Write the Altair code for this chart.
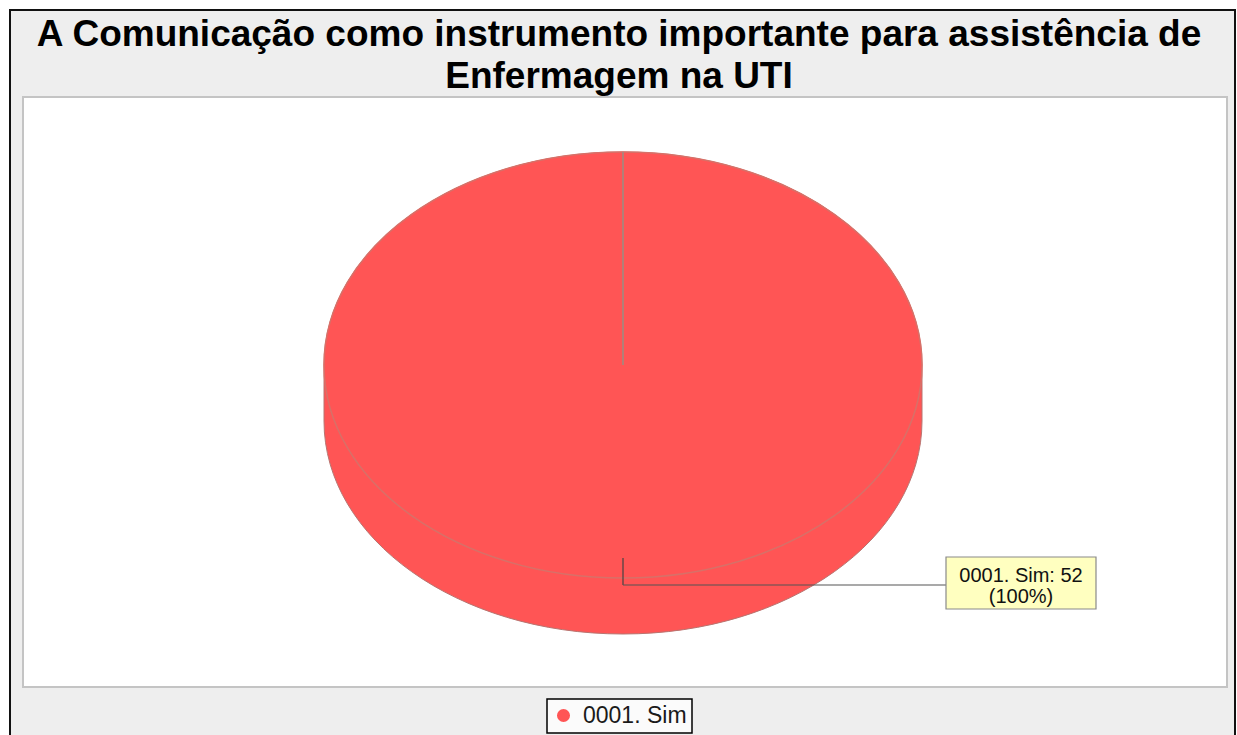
import altair as alt
import pandas as pd

# ---- data ----
categories = ["0001. Sim"]
values = [52]
title_lines = ["A Comunicação como instrumento importante para assistência de",
               "Enfermagem na UTI"]
slice_colors = ["#FF5555"]

df = pd.DataFrame({"category": categories, "value": values})
blank = alt.Data(values=[{"k": 1}])
titles = pd.DataFrame({"line": title_lines, "row": list(range(len(title_lines)))})

W, H = 1237, 735
CX, CY = 623, 365          # centre of the pie's top face
RX = 299                   # horizontal radius in px
RY_REL = 0.7124            # vertical/horizontal ratio of the ellipse
DEPTH_REL = 0.1873         # thickness of the 3D side, relative to RX
SIZE = (2 * RX) ** 2

top_face = (f"M -1 0 A 1 {RY_REL} 0 1 1 1 0 A 1 {RY_REL} 0 1 1 -1 0 Z")
silhouette = (f"M -1 0 A 1 {RY_REL} 0 0 1 1 0 L 1 {DEPTH_REL} "
              f"A 1 {RY_REL} 0 0 1 -1 {DEPTH_REL} Z")

color_scale = alt.Scale(domain=categories, range=slice_colors)
legend = alt.Legend(title=None, orient="none", legendX=547, legendY=699,
                    strokeColor="#000000", fillColor="#fbfbfb", padding=5,
                    symbolType="circle", symbolSize=170,
                    symbolStrokeWidth=0, symbolOpacity=1,
                    labelFont="Liberation Sans", labelFontSize=23,
                    labelColor="#1a1a1a", labelOffset=8)

outer = alt.Chart(blank).mark_rect(fill="#eeeeee", stroke="#111111", strokeWidth=2).encode(
    x=alt.value(10), x2=alt.value(1235), y=alt.value(10), y2=alt.value(780))

panel = alt.Chart(blank).mark_rect(fill="#ffffff", stroke="#c4c4c4", strokeWidth=2).encode(
    x=alt.value(23), x2=alt.value(1227), y=alt.value(97), y2=alt.value(687))

title = alt.Chart(titles).mark_text(
    font="Liberation Sans", fontWeight="bold", fontSize=37, color="#000000",
    align="center", baseline="alphabetic").encode(
    x=alt.value(619),
    y=alt.Y("row:Q", scale=alt.Scale(domain=[0, 1], range=[46, 88]), axis=None),
    text="line:N")

side = alt.Chart(df).mark_point(
    shape=silhouette, filled=True, size=SIZE, opacity=1,
    stroke="#b87470", strokeWidth=1).encode(
    x=alt.value(CX), y=alt.value(CY),
    color=alt.Color("category:N", scale=color_scale, legend=legend))

top = alt.Chart(df).mark_point(
    shape=top_face, filled=True, size=SIZE, opacity=1,
    stroke="#d87068", strokeWidth=1.5).encode(
    x=alt.value(CX), y=alt.value(CY),
    color=alt.Color("category:N", scale=color_scale, legend=legend))

boundary = alt.Chart(blank).mark_rule(color="#a08a80", strokeWidth=2, opacity=0.8).encode(
    x=alt.value(CX), y=alt.value(152), y2=alt.value(CY))

leader_v = alt.Chart(blank).mark_rule(color="#444444", strokeWidth=1.2).encode(
    x=alt.value(CX), y=alt.value(558), y2=alt.value(585))
leader_h = alt.Chart(blank).mark_rule(color="#555555", strokeWidth=1.2).encode(
    x=alt.value(CX), x2=alt.value(946), y=alt.value(585))

box = alt.Chart(blank).mark_rect(fill="#ffffc0", stroke="#8a8a8a", strokeWidth=1.2).encode(
    x=alt.value(946), x2=alt.value(1096), y=alt.value(557), y2=alt.value(609))

lab = alt.Chart(df).transform_joinaggregate(total="sum(value)").transform_calculate(
    l1="datum.category + ': ' + datum.value",
    l2="'(' + format(datum.value / datum.total, '.0%') + ')'")

lab1 = lab.mark_text(font="Liberation Sans", fontSize=20, color="#111111",
                     align="center", baseline="alphabetic").encode(
    x=alt.value(1021), y=alt.value(582), text="l1:N")
lab2 = lab.mark_text(font="Liberation Sans", fontSize=20, color="#111111",
                     align="center", baseline="alphabetic").encode(
    x=alt.value(1021), y=alt.value(603), text="l2:N")

chart = alt.layer(outer, panel, title, side, top, boundary, leader_v, leader_h,
                  box, lab1, lab2).properties(
    width=W, height=H, padding=0, background="#ffffff",
    autosize=alt.AutoSizeParams(type="none")
).configure_view(stroke=None).configure_legend(strokeWidth=1.5)

chart.save("out.html", embed_options={"renderer": "svg", "actions": False})
